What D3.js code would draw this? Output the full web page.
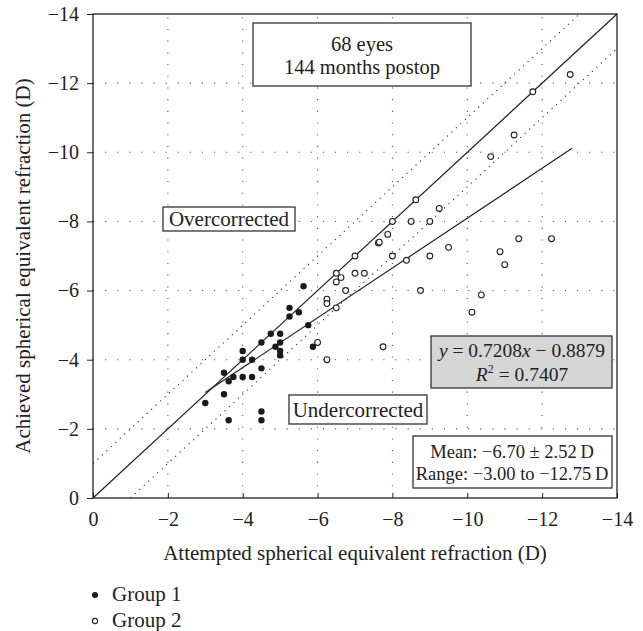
<!DOCTYPE html>
<html><head><meta charset="utf-8">
<script src="https://cdn.jsdelivr.net/npm/d3@7"></script>
<style>body{margin:0;background:#fff}svg{display:block}text{font-family:"Liberation Serif","Times New Roman",serif;fill:#222}</style>
</head><body><svg id="c" width="643" height="631"></svg>
<script>
// Data (attempted, achieved) in diopters
const group1Attempted = [-5.625,-5.25,-5.25,-5.5,-5.75,-4.75,-5,-4.5,-5,-4.875,-5,-5,-4,-4,-4.25,-3.5,-4.5,-3.625,-3.75,-4,-4.25,-3.5,-3,-3.625,-4.5,-4.5,-5.875];
const group1Achieved  = [-6.125,-5.5,-5.25,-5.375,-5,-4.75,-4.75,-4.5,-4.5,-4.375,-4.25,-4.125,-4.25,-4,-4,-3.625,-3.75,-3.375,-3.5,-3.5,-3.5,-3,-2.75,-2.25,-2.5,-2.25,-4.375];
const group2Attempted = [-8.625,-9.25,-8,-8.5,-9,-7.875,-7.625,-7.65,-9.5,-7,-8,-9,-8.375,-6.5,-7,-7.25,-6.625,-6.5,-6.75,-8.75,-6.25,-6.25,-6.5,-6,-7.75,-6.25,-10.875,-11,-10.375,-10.125,-11.375,-12.25,-11.75,-12.75,-11.25,-10.625];
const group2Achieved  = [-8.625,-8.375,-8,-8,-8,-7.625,-7.375,-7.4,-7.25,-7,-7,-7,-6.875,-6.5,-6.5,-6.5,-6.375,-6.25,-6,-6,-5.75,-5.625,-5.5,-4.5,-4.375,-4,-7.125,-6.75,-5.875,-5.375,-7.5,-7.5,-11.75,-12.25,-10.5,-9.875];
const tickValues = [0,-2,-4,-6,-8,-10,-12,-14];
const regSlope = 0.7208, regIntercept = -0.8879, regRange = [-3, -12.8];
const legendLabels = ["Group 1","Group 2"];

const svg = d3.select("#c");
const L=93,R=617,T=14,B=498;
const x = d3.scaleLinear().domain([0,-14]).range([L,R]);
const y = d3.scaleLinear().domain([0,-14]).range([B,T]);
const fmt = d => d===0 ? "0" : "\u2212"+Math.abs(d);

// grid
const grid = svg.append("g");
tickValues.slice(1,-1).forEach(v=>{
  grid.append("line").attr("x1",x(v)).attr("x2",x(v)).attr("y1",B).attr("y2",T)
    .attr("stroke","#555").attr("stroke-width",1.1).attr("stroke-dasharray","1.1 10.6");
  grid.append("line").attr("x1",L).attr("x2",R).attr("y1",y(v)).attr("y2",y(v))
    .attr("stroke","#555").attr("stroke-width",1.1).attr("stroke-dasharray","1.1 11");
});

// reference lines
const line = d3.line().x(d=>x(d[0])).y(d=>y(d[1]));
svg.append("path").attr("d",line([[0,-1],[-13,-14]])).attr("stroke","#222").attr("stroke-width",1.1).attr("stroke-dasharray","1.1 5").attr("fill","none");
svg.append("path").attr("d",line([[-1,0],[-14,-13]])).attr("stroke","#222").attr("stroke-width",1.1).attr("stroke-dasharray","1.1 5").attr("fill","none");
svg.append("path").attr("d",line([[0,0],[-14,-14]])).attr("stroke","#222").attr("stroke-width",1.2).attr("fill","none");
svg.append("path").attr("d",line(regRange.map(v=>[v,regSlope*v+regIntercept]))).attr("stroke","#222").attr("stroke-width",1.2).attr("fill","none");

// boxes
function box(x0,y0,x1,y1,fill){
  svg.append("rect").attr("x",x0).attr("y",y0).attr("width",x1-x0).attr("height",y1-y0)
    .attr("fill",fill).attr("stroke","#333").attr("stroke-width",1.3);
}
box(253,23,471,86,"#fff");
svg.append("text").attr("x",362).attr("y",51).attr("text-anchor","middle").attr("font-size",20.5).text("68 eyes");
svg.append("text").attr("x",362).attr("y",74).attr("text-anchor","middle").attr("font-size",20.5).text("144 months postop");
box(163,207,295,231,"#fff");
svg.append("text").attr("x",229).attr("y",226).attr("text-anchor","middle").attr("font-size",21).text("Overcorrected");
box(289,395,427,424,"#fff");
svg.append("text").attr("x",358).attr("y",417).attr("text-anchor","middle").attr("font-size",21).text("Undercorrected");
box(431,336,612,388,"#d6d6d6");
const eq = svg.append("text").attr("x",522).attr("y",357).attr("text-anchor","middle").attr("font-size",19.5);
eq.append("tspan").attr("font-style","italic").text("y");
eq.append("tspan").text(" = 0.7208");
eq.append("tspan").attr("font-style","italic").text("x");
eq.append("tspan").text(" \u2212 0.8879");
const r2 = svg.append("text").attr("x",522).attr("y",381).attr("text-anchor","middle").attr("font-size",19.5);
r2.append("tspan").attr("font-style","italic").text("R");
r2.append("tspan").attr("font-size",12).attr("dy",-8).text("2");
r2.append("tspan").attr("dy",8).text(" = 0.7407");
box(413,436,612,488,"#fff");
svg.append("text").attr("x",512).attr("y",458).attr("text-anchor","middle").attr("font-size",18.5).text("Mean: \u22126.70 \u00b1 2.52\u2009D");
svg.append("text").attr("x",512).attr("y",480).attr("text-anchor","middle").attr("font-size",18.5).text("Range: \u22123.00 to \u221212.75\u2009D");

// points
svg.append("g").selectAll("circle").data(group2Attempted.map((a,i)=>[a,group2Achieved[i]])).join("circle")
  .attr("cx",d=>x(d[0])).attr("cy",d=>y(d[1])).attr("r",2.9).attr("fill","#fff").attr("stroke","#222").attr("stroke-width",1.1);
svg.append("g").selectAll("circle").data(group1Attempted.map((a,i)=>[a,group1Achieved[i]])).join("circle")
  .attr("cx",d=>x(d[0])).attr("cy",d=>y(d[1])).attr("r",3.2).attr("fill","#1a1a1a");

// frame
svg.append("rect").attr("x",L).attr("y",T).attr("width",R-L).attr("height",B-T).attr("fill","none").attr("stroke","#222").attr("stroke-width",1.3);

// axes
const xAxis = svg.append("g").attr("transform",`translate(0,${B})`)
  .call(d3.axisBottom(x).tickValues(tickValues).tickFormat(fmt).tickSizeInner(-5).tickSizeOuter(0).tickPadding(14));
xAxis.select(".domain").remove();
xAxis.selectAll("line").attr("stroke","#222");
xAxis.selectAll("text").attr("font-size",20).attr("font-family","Liberation Serif").attr("fill","#222");
const yAxis = svg.append("g").attr("transform",`translate(${L},0)`)
  .call(d3.axisLeft(y).tickValues(tickValues).tickFormat(fmt).tickSizeInner(6).tickSizeOuter(0).tickPadding(8));
yAxis.select(".domain").remove();
yAxis.selectAll("line").attr("stroke","#222");
yAxis.selectAll("text").attr("font-size",20).attr("font-family","Liberation Serif").attr("fill","#222");

// titles
svg.append("text").attr("x",355).attr("y",560).attr("text-anchor","middle").attr("font-size",21).text("Attempted spherical equivalent refraction (D)");
svg.append("text").attr("transform","translate(30,266) rotate(-90)").attr("text-anchor","middle").attr("font-size",21).text("Achieved spherical equivalent refraction (D)");

// legend
legendLabels.forEach((lab,i)=>{
  const cy = 595 + i*26;
  svg.append("circle").attr("cx",95).attr("cy",cy).attr("r",i===0?3:2.6)
    .attr("fill",i===0?"#1a1a1a":"#fff").attr("stroke","#222").attr("stroke-width",i===0?0:1.1);
  svg.append("text").attr("x",112).attr("y",cy+6).attr("font-size",21).text(lab);
});
</script></body></html>
